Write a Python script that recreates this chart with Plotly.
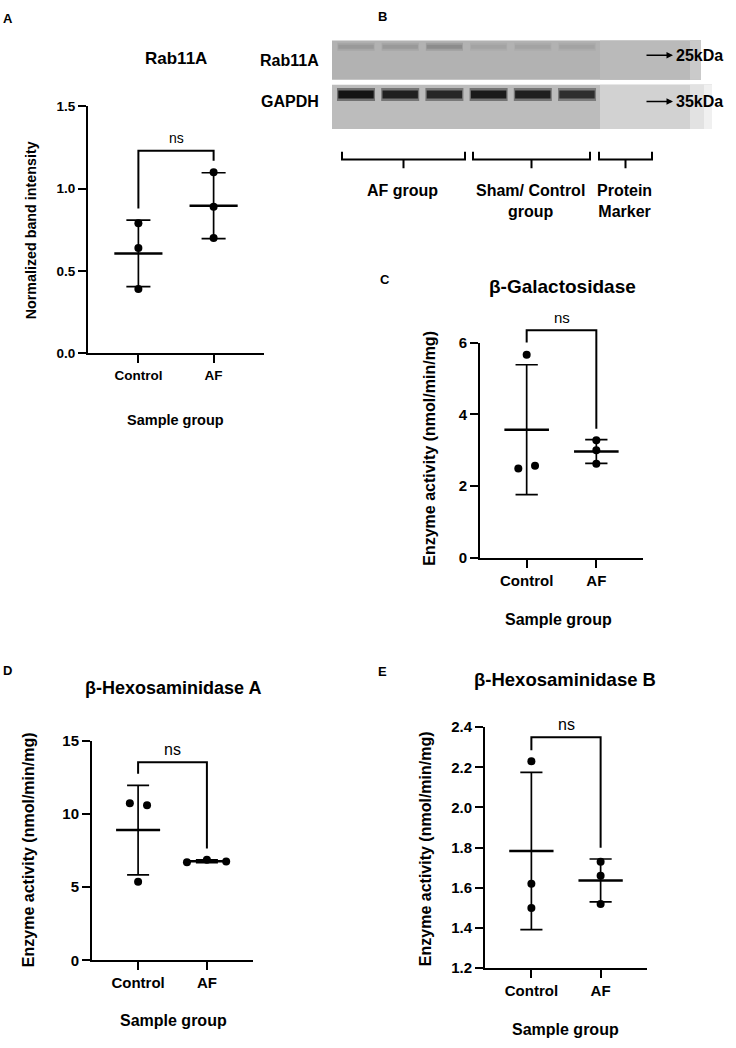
import numpy as np
import plotly.graph_objects as go

W, H = 736, 1048
FONT = "Liberation Sans, Arial, sans-serif"

# ---------------- data ----------------
groups = ["Control", "AF"]

# Panel A: Rab11A normalized band intensity
rab_ctrl = [0.79, 0.64, 0.39]
rab_af = [1.10, 0.89, 0.70]
rab_ctrl_jit = [0.0, 0.0, 0.0]
rab_af_jit = [0.0, 0.0, 0.0]
rab_bracket = [1.23, 0.88, 1.17]          # top, left end, right end

# Panel C: beta-Galactosidase
gal_ctrl = [5.66, 2.49, 2.57]
gal_af = [3.28, 3.00, 2.62]
gal_ctrl_jit = [0.0, -0.12, 0.12]
gal_af_jit = [0.0, 0.0, 0.0]
gal_bracket = [6.34, 6.0, 3.6]

# Panel D: beta-Hexosaminidase A
hexa_ctrl = [10.74, 10.6, 5.37]
hexa_af = [6.70, 6.88, 6.75]
hexa_ctrl_jit = [-0.12, 0.13, 0.0]
hexa_af_jit = [-0.29, 0.0, 0.28]
hexa_bracket = [13.55, 12.75, 7.65]

# Panel E: beta-Hexosaminidase B
hexb_ctrl = [2.23, 1.62, 1.50]
hexb_af = [1.73, 1.66, 1.52]
hexb_ctrl_jit = [0.0, 0.0, 0.0]
hexb_af_jit = [0.0, 0.0, 0.0]
hexb_bracket = [2.35, 2.285, 1.80]

# Panel B: western blot lanes (relative band darkness)
lanes = [1, 2, 3, 4, 5, 6]
rab11a_band = [0.40, 0.40, 0.45, 0.36, 0.36, 0.36]
gapdh_band = [0.92, 0.88, 0.85, 0.90, 0.88, 0.82]

# ---------------- helpers ----------------
def px(x):
    return x / W

def py(y):
    return 1 - y / H

fig = go.Figure()
annotations = []
shapes = []

def bold(size):
    return dict(family=FONT, size=size, color="black", weight="bold")

panels = [
    dict(ax="", ov="6", ctrl=rab_ctrl, af=rab_af, cj=rab_ctrl_jit, aj=rab_af_jit, br=rab_bracket,
         dom=(88, 264, 99, 350), yr=[0, 1.5], tv=[0, 0.5, 1.0, 1.5], tf=".1f",
         tick=13.5, ns=14),
    dict(ax="2", ov="7", ctrl=gal_ctrl, af=gal_af, cj=gal_ctrl_jit, aj=gal_af_jit, br=gal_bracket,
         dom=(480, 643, 339, 558), yr=[0, 6], tv=[0, 2, 4, 6], tf="d",
         tick=15, ns=15),
    dict(ax="3", ov="8", ctrl=hexa_ctrl, af=hexa_af, cj=hexa_ctrl_jit, aj=hexa_af_jit, br=hexa_bracket,
         dom=(92, 253, 744, 967), yr=[0, 15], tv=[0, 5, 10, 15], tf="d",
         tick=15, ns=16),
    dict(ax="4", ov="9", ctrl=hexb_ctrl, af=hexb_af, cj=hexb_ctrl_jit, aj=hexb_af_jit, br=hexb_bracket,
         dom=(485, 647, 730, 975), yr=[1.2, 2.4], tv=[1.2, 1.4, 1.6, 1.8, 2.0, 2.2, 2.4], tf=".1f",
         tick=15, ns=16),
]

EXTRA = 45  # px of headroom for brackets drawn on an invisible overlay subplot

layout_axes = {}
for p in panels:
    xa, ya = "x" + p["ax"], "y" + p["ax"]
    xo, yo = "x" + p["ov"], "y" + p["ov"]
    l, r, t, b = p["dom"]
    layout_axes["xaxis" + p["ax"]] = dict(
        domain=[px(l), px(r)], range=[-0.67, 1.67], anchor=ya,
        tickvals=[0, 1], ticktext=groups, ticks="outside", ticklen=8, tickwidth=2,
        tickcolor="black", showline=True, linewidth=2, linecolor="black",
        showgrid=False, zeroline=False, tickfont=bold(p["tick"]), fixedrange=True)
    layout_axes["yaxis" + p["ax"]] = dict(
        domain=[py(b), py(t)], range=p["yr"], anchor=xa,
        tickvals=p["tv"], tickformat=p["tf"], ticks="outside", ticklen=8, tickwidth=2,
        tickcolor="black", showline=True, linewidth=2, linecolor="black",
        showgrid=False, zeroline=False, tickfont=bold(p["tick"]), fixedrange=True)
    # overlay subplot: same scale, taller domain (for the significance bracket)
    y0, y1 = p["yr"]
    ext_top = y1 + (y1 - y0) * EXTRA / (b - t)
    layout_axes["xaxis" + p["ov"]] = dict(
        domain=[px(l), px(r)], range=[-0.67, 1.67], anchor=yo, visible=False, fixedrange=True)
    layout_axes["yaxis" + p["ov"]] = dict(
        domain=[py(b), py(t - EXTRA)], range=[y0, ext_top], anchor=xo, visible=False,
        fixedrange=True)

    for i, (vals, jit) in enumerate([(p["ctrl"], p["cj"]), (p["af"], p["aj"])]):
        v = np.array(vals, dtype=float)
        m, s = v.mean(), v.std(ddof=1)
        # SD error bar
        fig.add_trace(go.Scatter(
            x=[i, i, None, i - 0.16, i + 0.16, None, i - 0.16, i + 0.16],
            y=[m - s, m + s, None, m + s, m + s, None, m - s, m - s],
            mode="lines", line=dict(color="black", width=1.7),
            xaxis=xa, yaxis=ya, showlegend=False, hoverinfo="skip"))
        # mean line
        fig.add_trace(go.Scatter(
            x=[i - 0.32, i + 0.32], y=[m, m], mode="lines",
            line=dict(color="black", width=2.5),
            xaxis=xa, yaxis=ya, showlegend=False, hoverinfo="skip"))
        # points
        fig.add_trace(go.Scatter(
            x=[i + j for j in jit], y=vals, mode="markers",
            marker=dict(color="black", size=8), cliponaxis=False,
            xaxis=xa, yaxis=ya, showlegend=False))
    # significance bracket
    top, le, re = p["br"]
    fig.add_trace(go.Scatter(
        x=[0, 0, 1, 1], y=[le, top, top, re], mode="lines",
        line=dict(color="black", width=2), cliponaxis=False,
        xaxis=xo, yaxis=yo, showlegend=False, hoverinfo="skip"))
    annotations.append(dict(
        x=0.5, y=top, xref=xo, yref=yo, text="ns", showarrow=False,
        xanchor="center", yanchor="middle", yshift=13,
        font=dict(family=FONT, size=p["ns"], color="black")))

# ---------------- panel B : western blot ----------------
blot_l, blot_r, blot_t, blot_b = 332, 712, 32, 122
layout_axes["xaxis5"] = dict(domain=[px(blot_l), px(blot_r)], range=[0.457, 9.054],
                             visible=False, anchor="y5", fixedrange=True)
layout_axes["yaxis5"] = dict(domain=[py(blot_b), py(blot_t)], range=[0, 1],
                             visible=False, anchor="x5", fixedrange=True)

def rect(x0, x1, y0, y1, color):
    shapes.append(dict(type="rect", xref="paper", yref="paper",
                       x0=px(x0), x1=px(x1), y0=py(y1), y1=py(y0),
                       fillcolor=color, line=dict(width=0), layer="below"))

# Rab11A strip
rect(332, 701, 32, 72, "rgb(178,178,178)")
rect(600, 701, 32, 72, "rgb(186,186,186)")
rect(690, 701, 32, 72, "rgb(202,202,202)")
# GAPDH strip
rect(332, 712, 77, 122, "rgb(188,188,188)")
rect(600, 712, 77, 122, "rgb(210,210,210)")
rect(690, 712, 77, 122, "rgb(226,226,226)")
rect(704, 712, 77, 122, "rgb(240,240,240)")

def gray(level, bg=185, k=1.0):
    g = int(round(bg + (255 * (1 - level) - bg) * k))
    return f"rgb({g},{g},{g})"

for lane, a, g in zip(lanes, rab11a_band, gapdh_band):
    # soft halo then core of each band
    fig.add_trace(go.Scatter(x=[lane - 0.42, lane + 0.42], y=[0.93, 0.93], mode="lines",
                             line=dict(color=gray(a, 178, 0.5), width=8), xaxis="x5", yaxis="y5",
                             showlegend=False, hoverinfo="skip"))
    fig.add_trace(go.Scatter(x=[lane - 0.4, lane + 0.4], y=[0.93, 0.93], mode="lines",
                             line=dict(color=gray(a), width=4), xaxis="x5", yaxis="y5",
                             showlegend=False, hoverinfo="skip"))
    fig.add_trace(go.Scatter(x=[lane - 0.43, lane + 0.43], y=[0.39, 0.39], mode="lines",
                             line=dict(color=gray(g, 188, 0.45), width=13), xaxis="x5", yaxis="y5",
                             showlegend=False, hoverinfo="skip"))
    fig.add_trace(go.Scatter(x=[lane - 0.4, lane + 0.4], y=[0.39, 0.39], mode="lines",
                             line=dict(color=gray(g), width=8), xaxis="x5", yaxis="y5",
                             showlegend=False, hoverinfo="skip"))

# row labels
for label, yy in [("Rab11A", 52), ("GAPDH", 94)]:
    annotations.append(dict(x=px(321), y=py(yy), xref="paper", yref="paper", text=label,
                            showarrow=False, xanchor="right", yanchor="middle", font=bold(16)))
# kDa arrows
for label, yy in [("25kDa", 47), ("35kDa", 94)]:
    annotations.append(dict(x=px(673), y=py(yy), xref="paper", yref="paper", text="",
                            showarrow=True, ax=-28, ay=0, arrowhead=2, arrowsize=1,
                            arrowwidth=1.3, arrowcolor="black"))
    annotations.append(dict(x=px(675), y=py(yy), xref="paper", yref="paper", text=label,
                            showarrow=False, xanchor="left", yanchor="middle", font=bold(16),
                            borderpad=0))

# group brackets under the blot
for x0, x1, label, ly in [(342, 465, "AF group", 185),
                          (473, 590, "Sham/ Control<br>group", 195),
                          (599, 652, "Protein<br>Marker", 195)]:
    xc = (x0 + x1) / 2
    path = (f"M {px(x0)},{py(145)} L {px(x0)},{py(153)} L {px(x1)},{py(153)} L {px(x1)},{py(145)} "
            f"M {px(xc)},{py(153)} L {px(xc)},{py(162)}")
    shapes.append(dict(type="path", xref="paper", yref="paper", path=path,
                       line=dict(color="black", width=2)))
    annotations.append(dict(x=px(xc - 1), y=py(ly), xref="paper", yref="paper", text=label,
                            showarrow=False, xanchor="center", yanchor="middle",
                            font=bold(16)))

# ---------------- text annotations ----------------
def txt(x, y, s, size, angle=0, weight="bold"):
    annotations.append(dict(x=px(x), y=py(y), xref="paper", yref="paper", text=s,
                            showarrow=False, xanchor="center", yanchor="middle",
                            textangle=angle,
                            font=dict(family=FONT, size=size, color="black", weight=weight)))

# panel letters
for letter, x, y in [("A", 8, 10), ("B", 383, 8), ("C", 385, 275), ("D", 7, 672), ("E", 383, 673)]:
    txt(x, y, letter, 13)

# titles
txt(176, 50, "Rab11A", 17)
txt(562, 282, "β-Galactosidase", 19)
txt(173, 690, "β-Hexosaminidase A", 18)
txt(565, 682, "β-Hexosaminidase B", 18.5)

# y titles
txt(31, 225, "Normalized band intensity", 14.3, -90)
txt(430, 447, "Enzyme activity (nmol/min/mg)", 16, -90)
txt(28, 855, "Enzyme activity (nmol/min/mg)", 16, -90)
txt(425, 854, "Enzyme activity (nmol/min/mg)", 16, -90)

# x titles
txt(175, 418, "Sample group", 14.5)
txt(558, 621, "Sample group", 16)
txt(173, 1028, "Sample group", 16)
txt(565, 1037, "Sample group", 16)

fig.update_layout(
    width=W, height=H, margin=dict(l=0, r=0, t=0, b=0),
    paper_bgcolor="white", plot_bgcolor="rgba(0,0,0,0)",
    showlegend=False, annotations=annotations, shapes=shapes,
    font=dict(family=FONT, color="black"),
    **layout_axes)

fig.write_html("out.html", config={"displayModeBar": False},
               post_script="document.body.style.margin='0px';document.body.style.overflow='hidden';")
